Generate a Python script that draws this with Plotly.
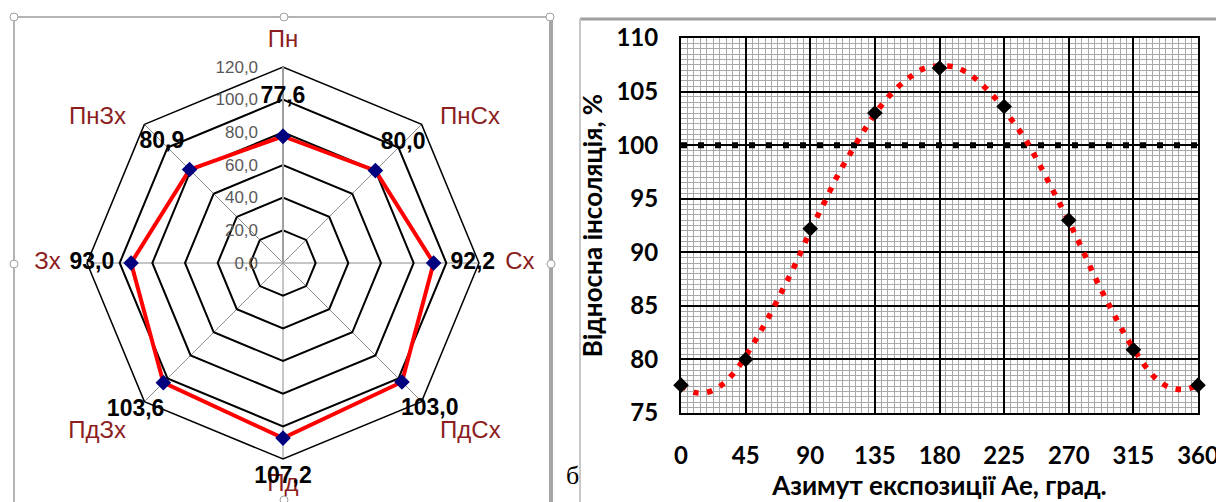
import plotly.graph_objects as go

W, H = 1216, 502

# ---------------- data ----------------
# radar chart (relative insolation by slope exposure)
directions = ["Пн", "ПнСх", "Сх", "ПдСх", "Пд", "ПдЗх", "Зх", "ПнЗх"]
insolation = [77.6, 80.0, 92.2, 103.0, 107.2, 103.6, 93.0, 80.9]
radial_ticks = [0, 20, 40, 60, 80, 100, 120]

# line chart (relative insolation vs. exposure azimuth)
azimuth_pts = [0, 45, 90, 135, 180, 225, 270, 315, 360]
insolation_pts = [77.6, 80.0, 92.2, 103.0, 107.2, 103.6, 93.0, 80.9, 77.6]
azimuth_curve = [0, 10, 20, 30, 40, 50, 60, 70, 80, 90, 100, 110, 120, 130, 140,
                 150, 160, 170, 180, 190, 200, 210, 220, 230, 240, 250, 260, 270,
                 280, 290, 300, 310, 320, 330, 340, 350, 360]
insolation_curve = [77.6, 76.9, 77.0, 77.8, 79.3, 81.4, 83.7, 86.3, 89.0, 92.0,
                    94.7, 97.4, 99.7, 101.9, 103.8, 105.3, 106.4, 107.2, 107.4,
                    107.3, 106.7, 105.6, 104.2, 102.4, 100.5, 98.1, 95.5, 92.9,
                    90.1, 87.2, 84.6, 82.1, 80.0, 78.3, 77.4, 77.2, 77.6]
reference_x = [0, 360]
reference_level = [100, 100]
x_ticks = [0, 45, 90, 135, 180, 225, 270, 315, 360]
y_ticks = [75, 80, 85, 90, 95, 100, 105, 110]


def px_x(x):
    return x / W


def px_y(y):
    return 1 - y / H


# radar geometry (pixels): centre and radius of the 120 ring
CX, CY, R120 = 283, 263, 196
R_LABEL_MAX = 140  # outer range of the overlay polar holding the labels
R_OUT = R120 * R_LABEL_MAX / 120
CATEGORY_R = 136   # radius (data units) where the direction names sit
category_pos = ["middle center", "bottom right", "middle right", "bottom right",
                "middle center", "bottom left", "middle left", "bottom left"]

fig = go.Figure()

# ---------------- radar ----------------
fig.add_trace(go.Scatterpolar(
    r=insolation + insolation[:1],
    theta=directions + directions[:1],
    mode="lines+markers",
    line=dict(color="#ff0000", width=4),
    marker=dict(symbol="diamond", size=12, color="#00007f"),
    showlegend=False, subplot="polar",
))
fig.add_trace(go.Scatterpolar(
    r=[CATEGORY_R] * len(directions),
    theta=directions,
    mode="text",
    text=directions,
    textposition=category_pos,
    textfont=dict(family="Liberation Sans", size=24, color="#8b1e1e"),
    cliponaxis=False,
    showlegend=False, subplot="polar2",
))
fig.add_trace(go.Scatterpolar(
    r=[v + 24 for v in insolation],
    theta=directions,
    mode="text",
    text=[f"{v:.1f}".replace(".", ",") for v in insolation],
    textfont=dict(family="Liberation Sans", size=23, color="black", weight="bold"),
    cliponaxis=False,
    showlegend=False, subplot="polar2",
))

# ---------------- line chart ----------------
fig.add_trace(go.Scatter(
    x=reference_x, y=reference_level, mode="lines",
    line=dict(color="black", width=6, dash="6px,11px"),
    showlegend=False, xaxis="x", yaxis="y",
))
fig.add_trace(go.Scatter(
    x=azimuth_curve, y=insolation_curve, mode="lines",
    line=dict(color="#ff0000", width=5.5, dash="5.5px,8.5px", shape="spline", smoothing=1),
    showlegend=False, xaxis="x", yaxis="y",
))
fig.add_trace(go.Scatter(
    x=azimuth_pts, y=insolation_pts, mode="markers",
    marker=dict(symbol="diamond", size=12, color="black"),
    showlegend=False, xaxis="x", yaxis="y", cliponaxis=False,
))

bold_font = dict(family="Lato", size=24, color="black", weight="bold")
title_font = dict(family="Lato", size=26, color="black", weight="bold")

# ---------------- frames & handles ----------------
shapes = []
gray = "#b4b4b4"
shapes.append(dict(type="line", xref="paper", yref="paper", x0=px_x(14), x1=px_x(551),
                   y0=px_y(17), y1=px_y(17), line=dict(color=gray, width=2)))
shapes.append(dict(type="line", xref="paper", yref="paper", x0=px_x(14), x1=px_x(14),
                   y0=px_y(17), y1=px_y(505), line=dict(color=gray, width=2)))
shapes.append(dict(type="line", xref="paper", yref="paper", x0=px_x(551), x1=px_x(551),
                   y0=px_y(17), y1=px_y(505), line=dict(color="#a6a6a6", width=4)))
shapes.append(dict(type="line", xref="paper", yref="paper", x0=px_x(580), x1=px_x(1220),
                   y0=px_y(19), y1=px_y(19), line=dict(color="#a0a0a0", width=3)))
shapes.append(dict(type="line", xref="paper", yref="paper", x0=px_x(580), x1=px_x(580),
                   y0=px_y(19), y1=px_y(505), line=dict(color="#c8c8c8", width=2)))
for hx, hy in [(14, 17), (284, 17), (550, 17), (14, 264), (551, 264), (284, 500)]:
    shapes.append(dict(type="circle", xref="paper", yref="paper",
                       x0=px_x(hx - 4), x1=px_x(hx + 4), y0=px_y(hy - 4), y1=px_y(hy + 4),
                       fillcolor="white", line=dict(color="#a0a0a0", width=1)))

hidden_axis = dict(showgrid=False, showline=False, showticklabels=False, ticks="")

fig.update_layout(
    width=W, height=H,
    margin=dict(l=0, r=0, t=0, b=0, pad=0, autoexpand=False),
    paper_bgcolor="white", plot_bgcolor="white",
    separators=", ",
    shapes=shapes,
    polar=dict(
        domain=dict(x=[px_x(CX - R120), px_x(CX + R120)],
                    y=[px_y(CY + R120), px_y(CY - R120)]),
        gridshape="linear",
        bgcolor="white",
        radialaxis=dict(
            range=[0, 120], tickvals=radial_ticks, tickformat=".1f",
            angle=90, side="counterclockwise", tickangle=90,
            showline=True, linecolor="#a0a0a0", linewidth=2,
            gridcolor="black", gridwidth=1.5,
            ticks="outside", ticklen=18, tickcolor="rgba(0,0,0,0)",
            tickfont=dict(family="Liberation Sans", size=17, color="#595959"),
            layer="below traces",
        ),
        angularaxis=dict(
            categoryarray=directions, categoryorder="array",
            direction="clockwise", rotation=90,
            showline=True, linecolor="black", linewidth=1.5,
            gridcolor="#8c8c8c", gridwidth=1,
            ticks="", showticklabels=False,
            layer="below traces",
        ),
    ),
    polar2=dict(
        domain=dict(x=[px_x(CX - R_OUT), px_x(CX + R_OUT)],
                    y=[px_y(CY + R_OUT), px_y(CY - R_OUT)]),
        gridshape="linear",
        bgcolor="rgba(0,0,0,0)",
        radialaxis=dict(range=[0, R_LABEL_MAX], **hidden_axis),
        angularaxis=dict(
            categoryarray=directions, categoryorder="array",
            direction="clockwise", rotation=90, **hidden_axis,
        ),
    ),
    xaxis=dict(
        domain=[px_x(681), px_x(1198)], anchor="y",
        range=[0, 360], tickvals=x_ticks,
        showgrid=True, gridcolor="black", gridwidth=1.5,
        minor=dict(dtick=4.5, showgrid=True, gridcolor="#a8a8a8", gridwidth=1),
        showline=True, linecolor="black", linewidth=2, mirror=True,
        zeroline=False, ticks="", ticklabelstandoff=20, ticklabeloverflow="allow",
        automargin=False,
        tickfont=bold_font,
        title=dict(text="Азимут експозиції Ае, град.", font=title_font, standoff=8),
    ),
    yaxis=dict(
        domain=[px_y(413), px_y(38)], anchor="x",
        range=[75, 110], tickvals=y_ticks,
        showgrid=True, gridcolor="black", gridwidth=1.5,
        minor=dict(dtick=0.5, showgrid=True, gridcolor="#a8a8a8", gridwidth=1),
        showline=True, linecolor="black", linewidth=2, mirror=True,
        zeroline=False, ticks="", ticklabelstandoff=16,
        automargin=False,
        tickfont=bold_font,
        title=dict(text="Відносна інсоляція, %", font=title_font, standoff=6),
    ),
    annotations=[dict(
        text="б", xref="paper", yref="paper", x=px_x(572), y=px_y(492),
        showarrow=False, font=dict(family="Liberation Serif", size=26, color="black"),
    )],
)

post = (
    "document.documentElement.style.margin='0';"
    "document.documentElement.style.overflow='hidden';"
    "document.body.style.margin='0';document.body.style.padding='0';"
    "document.body.style.overflow='hidden';"
    "var gd=document.getElementById('{plot_id}');"
    "gd.style.position='absolute';gd.style.left='0px';gd.style.top='0px';"
)
fig.write_html("out.html", post_script=post, config={"displayModeBar": False})
